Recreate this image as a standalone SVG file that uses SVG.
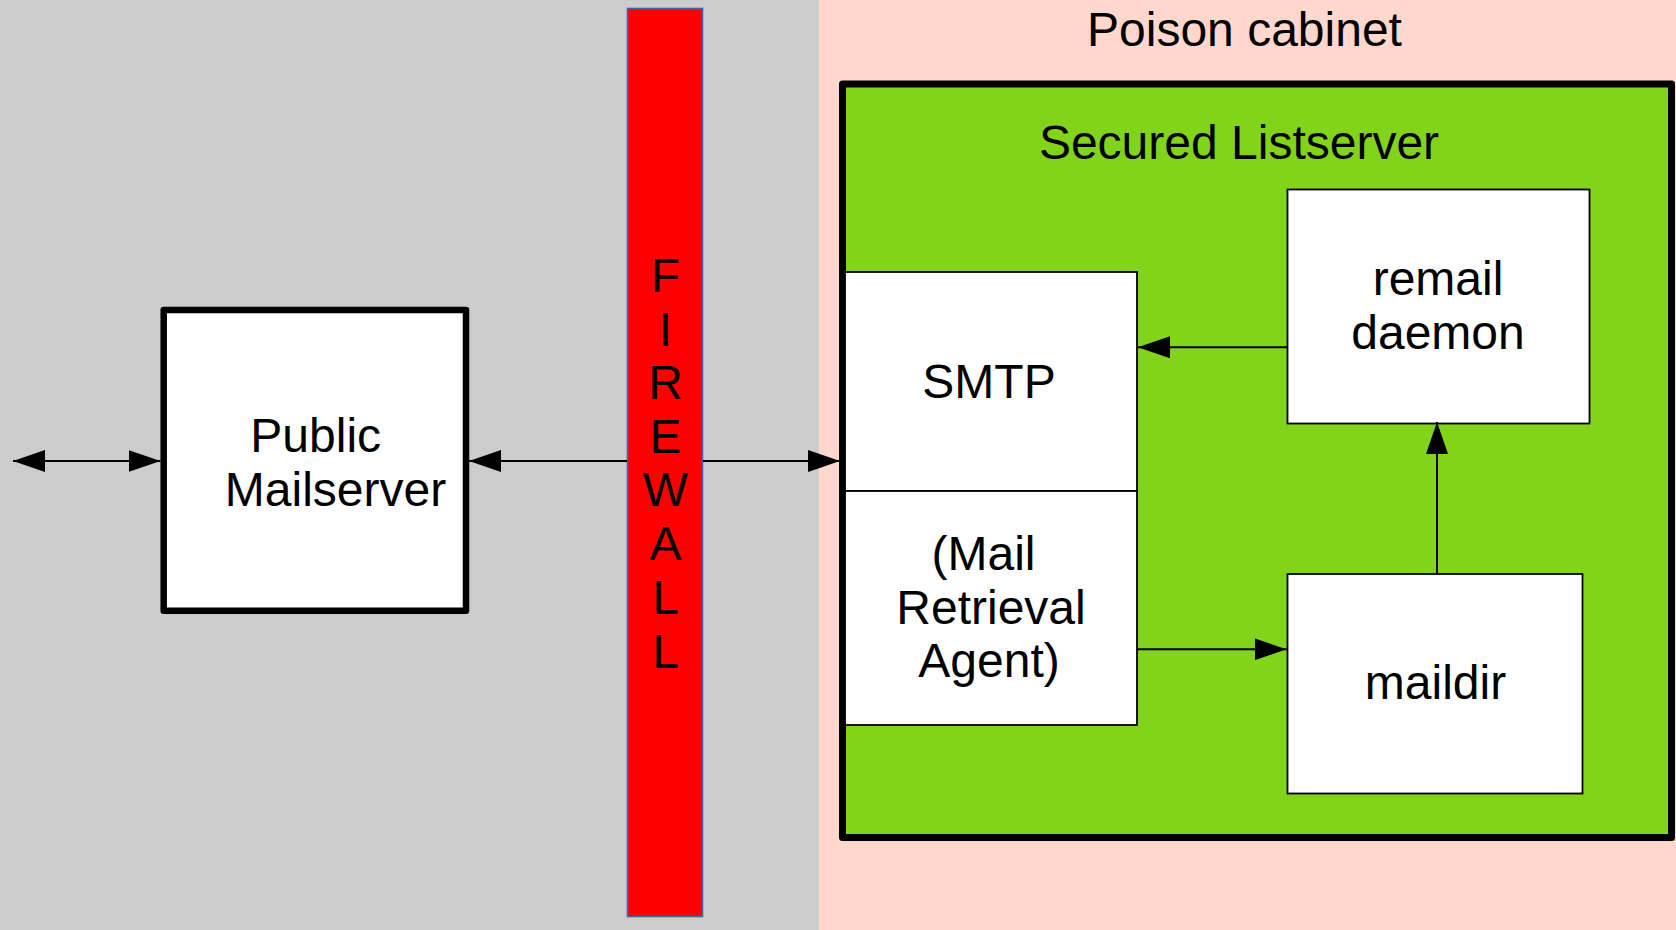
<svg xmlns="http://www.w3.org/2000/svg" width="1676" height="930" viewBox="0 0 1676 930">
  <defs>
    <style>
      text { font-family: "Liberation Sans", Arial, sans-serif; font-size: 48px; fill: #000; }
      .mid { text-anchor: middle; }
      .box { fill: #ffffff; stroke: #000; stroke-width: 1.8; }
      .thick { fill: #ffffff; stroke: #000; stroke-width: 6.5; stroke-linejoin: round; }
      .conn { stroke: #000; stroke-width: 2; fill: none; }
    </style>
    <marker id="arrow" viewBox="0 0 32 22" refX="32" refY="11" markerWidth="32" markerHeight="22" markerUnits="userSpaceOnUse" orient="auto-start-reverse">
      <path d="M0,0 L32,11 L0,22 Z" fill="#000"/>
    </marker>
  </defs>

  <!-- zones -->
  <rect id="public-zone" x="0" y="0" width="819" height="930" fill="#cccccc"/>
  <g id="poison-cabinet">
    <rect x="819" y="0" width="857" height="930" fill="#ffd7cc"/>
    <text class="mid" x="1244.5" y="45.7">Poison cabinet</text>
  </g>

  <!-- firewall -->
  <g id="firewall">
    <rect x="627.5" y="8.5" width="75" height="908" fill="#ff0000" stroke="#3d68a8" stroke-width="1.6"/>
    <text class="mid" x="665.5" y="291.7">F</text>
    <text class="mid" x="665.5" y="345.5">I</text>
    <text class="mid" x="665.5" y="399.3">R</text>
    <text class="mid" x="665.5" y="452.9">E</text>
    <text class="mid" x="665.5" y="506">W</text>
    <text class="mid" x="665.5" y="559.6">A</text>
    <text class="mid" x="665.5" y="613.8">L</text>
    <text class="mid" x="665.5" y="668">L</text>
  </g>

  <!-- public mailserver -->
  <g id="public-mailserver">
    <rect class="thick" x="163.7" y="310" width="302.3" height="300.7"/>
    <text class="mid" x="315.7" y="451.7">Public</text>
    <text class="mid" x="335.5" y="506">Mailserver</text>
  </g>

  <!-- secured listserver -->
  <g id="secured-listserver">
    <rect x="842.5" y="84" width="829" height="753.5" fill="#81d41a" stroke="#000" stroke-width="7" stroke-linejoin="round"/>
    <text class="mid" x="1239" y="159">Secured Listserver</text>
  </g>

  <g id="smtp">
    <rect class="box" x="845" y="272" width="292" height="219"/>
    <text class="mid" x="989" y="398.3">SMTP</text>
  </g>

  <g id="mra">
    <rect class="box" x="845" y="491" width="292" height="234"/>
    <text class="mid" x="983.5" y="570">(Mail </text>
    <text class="mid" x="991" y="624.3">Retrieval</text>
    <text class="mid" x="989" y="677.3">Agent)</text>
  </g>

  <g id="remail-daemon">
    <rect class="box" x="1287.5" y="189.5" width="302" height="234"/>
    <text class="mid" x="1438" y="295">remail</text>
    <text class="mid" x="1438" y="349.3">daemon</text>
  </g>

  <g id="maildir">
    <rect class="box" x="1287.5" y="574" width="295" height="219.5"/>
    <text class="mid" x="1435.5" y="699.3">maildir</text>
  </g>

  <!-- connectors -->
  <g id="connectors" class="conn">
    <line x1="13" y1="461" x2="160.5" y2="461" marker-start="url(#arrow)" marker-end="url(#arrow)"/>
    <line x1="627" y1="461" x2="469" y2="461" marker-end="url(#arrow)"/>
    <line x1="703" y1="461" x2="840" y2="461" marker-end="url(#arrow)"/>
    <line x1="1287" y1="347.3" x2="1138" y2="347.3" marker-end="url(#arrow)"/>
    <line x1="1437" y1="573" x2="1437" y2="422" marker-end="url(#arrow)"/>
    <line x1="1137" y1="649.3" x2="1286.5" y2="649.3" marker-end="url(#arrow)"/>
  </g>
</svg>
